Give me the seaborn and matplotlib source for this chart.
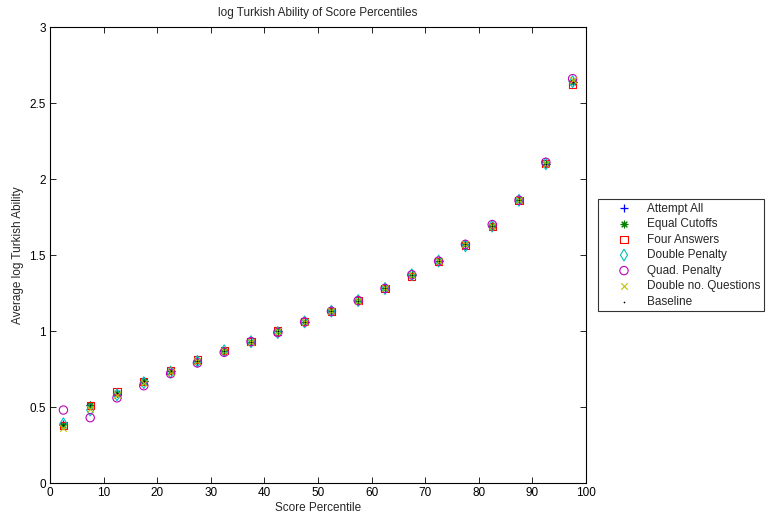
import matplotlib
matplotlib.use("Agg")
import matplotlib.pyplot as plt
import seaborn as sns
import pandas as pd

percentiles = [2.5, 7.5, 12.5, 17.5, 22.5, 27.5, 32.5, 37.5, 42.5, 47.5,
               52.5, 57.5, 62.5, 67.5, 72.5, 77.5, 82.5, 87.5, 92.5, 97.5]

attempt_all = [0.39, 0.51, 0.59, 0.67, 0.74, 0.80, 0.87, 0.93, 1.00, 1.06,
               1.13, 1.20, 1.28, 1.37, 1.46, 1.57, 1.69, 1.86, 2.10, 2.64]
equal_cutoffs = [0.38, 0.51, 0.59, 0.67, 0.74, 0.80, 0.87, 0.93, 1.00, 1.06,
                 1.13, 1.20, 1.28, 1.37, 1.46, 1.57, 1.69, 1.86, 2.10, 2.64]
four_answers = [0.38, 0.51, 0.60, 0.67, 0.74, 0.81, 0.87, 0.93, 1.00, 1.06,
                1.13, 1.20, 1.28, 1.36, 1.46, 1.56, 1.69, 1.86, 2.10, 2.62]
double_penalty = [0.39, 0.48, 0.58, 0.66, 0.73, 0.80, 0.87, 0.93, 0.99, 1.06,
                  1.13, 1.20, 1.28, 1.37, 1.46, 1.56, 1.69, 1.86, 2.10, 2.64]
quad_penalty = [0.48, 0.43, 0.56, 0.64, 0.72, 0.79, 0.86, 0.93, 0.99, 1.06,
                1.13, 1.20, 1.28, 1.37, 1.46, 1.57, 1.70, 1.86, 2.11, 2.66]
double_no_questions = [0.36, 0.49, 0.58, 0.66, 0.73, 0.80, 0.87, 0.93, 1.00, 1.06,
                       1.13, 1.20, 1.28, 1.37, 1.46, 1.57, 1.69, 1.86, 2.10, 2.65]
baseline = [0.38, 0.51, 0.59, 0.67, 0.74, 0.80, 0.87, 0.93, 1.00, 1.06,
            1.13, 1.20, 1.28, 1.37, 1.46, 1.57, 1.69, 1.86, 2.10, 2.64]

series_names = ["Attempt All", "Equal Cutoffs", "Four Answers", "Double Penalty",
                "Quad. Penalty", "Double no. Questions", "Baseline"]
series_values = [attempt_all, equal_cutoffs, four_answers, double_penalty,
                 quad_penalty, double_no_questions, baseline]

x_ticks = [0, 10, 20, 30, 40, 50, 60, 70, 80, 90, 100]
y_ticks = [0, 0.5, 1, 1.5, 2, 2.5, 3]
y_ticklabels = ["0", "0.5", "1", "1.5", "2", "2.5", "3"]

sns.set_theme(style="white")
plt.rcParams["font.family"] = ["Liberation Sans", "DejaVu Sans"]
plt.rcParams["font.size"] = 8.5

styles = [
    dict(marker="+", color=(0, 0, 1), s=36, linewidths=0.9),
    dict(marker=(8, 2, 0), color=(0, 0.5, 0), s=24, linewidths=0.8),
    dict(marker="s", facecolors="none", edgecolors=(1, 0, 0), s=26, linewidths=0.8),
    dict(marker="d", facecolors="none", edgecolors=(0, 0.75, 0.75), s=36, linewidths=0.8),
    dict(marker="o", facecolors="none", edgecolors=(0.75, 0, 0.75), s=36, linewidths=0.8),
    dict(marker="x", color=(0.75, 0.75, 0), s=22, linewidths=0.8),
    dict(marker=".", color=(0, 0, 0), s=6, linewidths=0),
]

fig = plt.figure(figsize=(7.69, 5.19), dpi=100)
ax = fig.add_axes([50 / 769, 1 - 483 / 519, 536 / 769, 456 / 519])

for name, vals, st in zip(series_names, series_values, styles):
    df = pd.DataFrame({"x": percentiles, "y": vals})
    sns.scatterplot(data=df, x="x", y="y", ax=ax, label=name, legend=False, **st)

ax.set_xlim(0, 100)
ax.set_ylim(0, 3)
ax.set_xticks(x_ticks)
ax.set_xticklabels([str(t) for t in x_ticks])
ax.set_yticks(y_ticks)
ax.set_yticklabels(y_ticklabels)
ax.tick_params(direction="in", length=4, width=0.6, labelsize=8.5, top=True, right=True,
               bottom=True, left=True, pad=3, colors="black")
for sp in ax.spines.values():
    sp.set_visible(True)
    sp.set_color("black")
    sp.set_linewidth(0.8)
ax.set_xlabel("Score Percentile", fontsize=8.5, labelpad=2)
ax.set_ylabel("Average log Turkish Ability", fontsize=8.5, labelpad=4)
ax.set_title("log Turkish Ability of Score Percentiles", fontsize=8.5, pad=8)

leg = ax.legend(loc="upper left", bbox_to_anchor=(598 / 769, 1 - 199 / 519),
                bbox_transform=fig.transFigure, frameon=True, fancybox=False,
                edgecolor="black", fontsize=8.5, borderpad=0.3, labelspacing=0.3,
                handletextpad=0.05, handlelength=3.8, borderaxespad=0)
leg.get_frame().set_linewidth(0.8)

fig.savefig("out.png", dpi=100)
